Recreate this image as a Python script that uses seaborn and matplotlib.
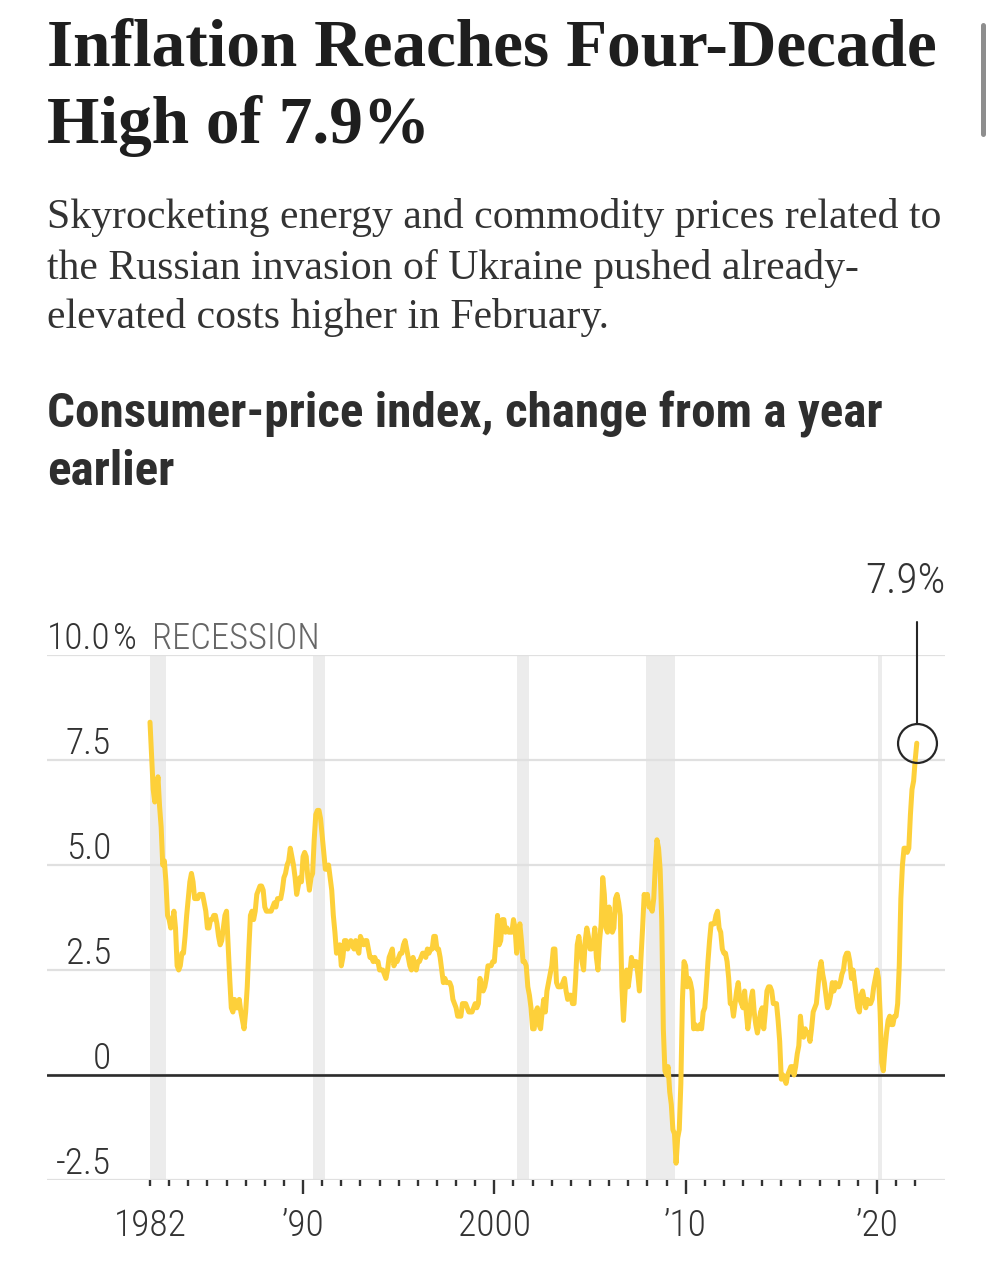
import numpy as np
import pandas as pd
import matplotlib
matplotlib.use("Agg")
import matplotlib.pyplot as plt
import matplotlib.transforms as mtransforms
from matplotlib.lines import Line2D
from matplotlib import font_manager as fm
import seaborn as sns

# ---------------- data: CPI, % change from a year earlier (monthly) ----------------
cpi_1982_1989 = [
    8.4, 7.6, 6.8, 6.5, 6.7, 7.1, 6.4, 5.9, 5.0, 5.1, 4.6, 3.8,
    3.7, 3.5, 3.6, 3.9, 3.5, 2.6, 2.5, 2.6, 2.9, 2.9, 3.3, 3.8,
    4.2, 4.6, 4.8, 4.6, 4.2, 4.2, 4.2, 4.3, 4.3, 4.3, 4.1, 3.9,
    3.5, 3.5, 3.7, 3.7, 3.8, 3.8, 3.6, 3.3, 3.1, 3.2, 3.5, 3.8,
    3.9, 3.1, 2.3, 1.6, 1.5, 1.8, 1.6, 1.6, 1.8, 1.5, 1.3, 1.1,
    1.5, 2.1, 3.0, 3.8, 3.9, 3.7, 3.9, 4.3, 4.4, 4.5, 4.5, 4.4,
    4.0, 3.9, 3.9, 3.9, 3.9, 4.0, 4.1, 4.0, 4.2, 4.2, 4.2, 4.4,
    4.7, 4.8, 5.0, 5.1, 5.4, 5.2, 5.0, 4.7, 4.3, 4.5, 4.7, 4.6,
]
cpi_1990_1999 = [
    5.2, 5.3, 5.2, 4.7, 4.4, 4.7, 4.8, 5.6, 6.2, 6.3, 6.3, 6.1,
    5.7, 5.3, 4.9, 4.9, 5.0, 4.7, 4.4, 3.8, 3.4, 2.9, 3.0, 3.1,
    2.6, 2.8, 3.2, 3.2, 3.0, 3.1, 3.2, 3.1, 3.0, 3.2, 3.0, 2.9,
    3.3, 3.2, 3.1, 3.2, 3.2, 3.0, 2.8, 2.8, 2.7, 2.8, 2.7, 2.7,
    2.5, 2.5, 2.5, 2.4, 2.3, 2.5, 2.8, 2.9, 3.0, 2.6, 2.7, 2.7,
    2.8, 2.9, 2.9, 3.1, 3.2, 3.0, 2.8, 2.6, 2.5, 2.8, 2.6, 2.5,
    2.7, 2.7, 2.8, 2.9, 2.9, 2.8, 3.0, 2.9, 3.0, 3.0, 3.3, 3.3,
    3.0, 3.0, 2.8, 2.5, 2.2, 2.3, 2.2, 2.2, 2.2, 2.1, 1.8, 1.7,
    1.6, 1.4, 1.4, 1.4, 1.7, 1.7, 1.7, 1.6, 1.5, 1.5, 1.5, 1.6,
    1.7, 1.6, 1.7, 2.3, 2.1, 2.0, 2.1, 2.3, 2.6, 2.6, 2.6, 2.7,
]
cpi_2000_2009 = [
    2.7, 3.2, 3.8, 3.1, 3.2, 3.7, 3.7, 3.4, 3.5, 3.4, 3.4, 3.4,
    3.7, 3.5, 2.9, 3.3, 3.6, 3.2, 2.7, 2.7, 2.6, 2.1, 1.9, 1.6,
    1.1, 1.1, 1.5, 1.6, 1.2, 1.1, 1.5, 1.8, 1.5, 2.0, 2.2, 2.4,
    2.6, 3.0, 3.0, 2.2, 2.1, 2.1, 2.1, 2.2, 2.3, 2.0, 1.8, 1.9,
    1.9, 1.7, 1.7, 2.3, 3.1, 3.3, 3.0, 2.7, 2.5, 3.2, 3.5, 3.3,
    3.0, 3.0, 3.1, 3.5, 2.8, 2.5, 3.2, 3.6, 4.7, 4.3, 3.5, 3.4,
    4.0, 3.6, 3.4, 3.5, 4.2, 4.3, 4.1, 3.8, 2.1, 1.3, 2.0, 2.5,
    2.1, 2.4, 2.8, 2.6, 2.7, 2.7, 2.4, 2.0, 2.8, 3.5, 4.3, 4.1,
    4.3, 4.0, 4.0, 3.9, 4.2, 5.0, 5.6, 5.4, 4.9, 3.7, 1.1, 0.1,
    0.0, 0.2, -0.4, -0.7, -1.3, -1.4, -2.1, -1.5, -1.3, -0.2, 1.8, 2.7,
]
cpi_2010_2019 = [
    2.6, 2.1, 2.3, 2.2, 2.0, 1.1, 1.2, 1.1, 1.1, 1.2, 1.1, 1.5,
    1.6, 2.1, 2.7, 3.2, 3.6, 3.6, 3.6, 3.8, 3.9, 3.5, 3.4, 3.0,
    2.9, 2.9, 2.7, 2.3, 1.7, 1.7, 1.4, 1.7, 2.0, 2.2, 1.8, 1.7,
    1.6, 2.0, 1.5, 1.1, 1.4, 1.8, 2.0, 1.5, 1.2, 1.0, 1.2, 1.5,
    1.6, 1.1, 1.5, 2.0, 2.1, 2.1, 2.0, 1.7, 1.7, 1.7, 1.3, 0.8,
    -0.1, 0.0, -0.1, -0.2, 0.0, 0.1, 0.2, 0.2, 0.0, 0.2, 0.5, 0.7,
    1.4, 1.0, 0.9, 1.1, 1.0, 1.0, 0.8, 1.1, 1.5, 1.6, 1.7, 2.1,
    2.5, 2.7, 2.4, 2.2, 1.9, 1.6, 1.7, 1.9, 2.2, 2.0, 2.2, 2.1,
    2.1, 2.2, 2.4, 2.5, 2.8, 2.9, 2.9, 2.7, 2.3, 2.5, 2.2, 1.9,
    1.6, 1.5, 1.9, 2.0, 1.8, 1.6, 1.8, 1.7, 1.7, 1.8, 2.1, 2.3,
]
cpi_2020_2022 = [
    2.5, 2.3, 1.5, 0.3, 0.1, 0.6, 1.0, 1.3, 1.4, 1.2, 1.2, 1.4,
    1.4, 1.7, 2.6, 4.2, 5.0, 5.4, 5.4, 5.3, 5.4, 6.2, 6.8, 7.0,
    7.5, 7.9,
]
start_month = "1982-01"

# recession periods (decimal years, clipped to the data range)
recession_start = [1982.0, 1990.5, 2001.17, 2007.92, 2020.08]
recession_end = [1982.83, 1991.17, 2001.83, 2009.42, 2020.25]

ytick_values = [-2.5, 0, 2.5, 5.0, 7.5, 10.0]
ytick_labels = ["-2.5", "0", "2.5", "5.0", "7.5", "10.0"]
xmajor_years = [1990, 2000, 2010, 2020]
xmajor_labels = ["\u201990", "2000", "\u201910", "\u201920"]
first_year = 1982
last_tick_year = 2022

title_lines = ["Inflation Reaches Four-Decade", "High of 7.9%"]
subtitle_lines = [
    "Skyrocketing energy and commodity prices related to",
    "the Russian invasion of Ukraine pushed already-",
    "elevated costs higher in February.",
]
chart_title_lines = ["Consumer-price index, change from a year", "earlier"]
latest_label = "7.9%"

# ---------------- assemble ----------------
values = cpi_1982_1989 + cpi_1990_1999 + cpi_2000_2009 + cpi_2010_2019 + cpi_2020_2022
months = pd.date_range(start_month, periods=len(values), freq="MS")
df = pd.DataFrame({"x": months.year + (months.month - 1) / 12.0, "cpi": values})

# ---------------- style ----------------
sns.set_style("white")
avail = {f.name for f in fm.fontManager.ttflist}


def pick(*names):
    for n in names:
        if n in avail:
            return n
    return "DejaVu Sans"


SERIF = pick("Liberation Serif", "DejaVu Serif")
NARROW = pick("Roboto Condensed", "Liberation Sans Narrow", "Roboto", "Liberation Sans")
BOLD_SANS = pick("Roboto Condensed", "Liberation Sans Narrow", "Roboto", "Lato")
plt.rcParams["font.family"] = [NARROW, "DejaVu Sans"]

W, H = 994, 1280
fig = plt.figure(figsize=(W / 100, H / 100), dpi=100)
fig.patch.set_facecolor("white")
renderer = fig.canvas.get_renderer()


def fx(px):
    return px / W


def fy(py):
    return 1 - py / H


def fit(t, target_px):
    w = t.get_window_extent(renderer).width
    t.set_fontsize(t.get_fontsize() * target_px / w)
    return t.get_fontsize()


# ---------------- header text ----------------
t1 = fig.text(fx(47), fy(65), title_lines[0], family=SERIF, weight="bold",
              fontsize=48, color="#1e1e1e", va="baseline", ha="left")
fs_title = fit(t1, 890)
fig.text(fx(47), fy(143), title_lines[1], family=SERIF, weight="bold",
         fontsize=fs_title, color="#1e1e1e", va="baseline", ha="left")

s1 = fig.text(fx(47), fy(228), subtitle_lines[0], family=SERIF,
              fontsize=28, color="#333333", va="baseline", ha="left")
fs_sub = fit(s1, 893)
for line, yb in zip(subtitle_lines[1:], [279, 328]):
    fig.text(fx(47), fy(yb), line, family=SERIF, fontsize=fs_sub,
             color="#333333", va="baseline", ha="left")

c1 = fig.text(fx(47), fy(427), chart_title_lines[0], family=BOLD_SANS, weight="bold",
              fontsize=28, color="#2e2e2e", va="baseline", ha="left")
fs_ct = fit(c1, 836)
fig.text(fx(47), fy(485), chart_title_lines[1], family=BOLD_SANS, weight="bold",
         fontsize=fs_ct, color="#2e2e2e", va="baseline", ha="left")

# phone-screenshot scroll indicator
fig.add_artist(Line2D([fx(983), fx(983)], [fy(25), fy(134)], color="#8e8e8e",
                      lw=3.6, solid_capstyle="round"))

# ---------------- chart ----------------
ax_left, ax_right, ax_top, ax_bottom = 47, 945, 655, 1180
ax = fig.add_axes([fx(ax_left), fy(ax_bottom), (ax_right - ax_left) / W,
                   (ax_bottom - ax_top) / H])
ax.set_facecolor("none")
px_per_year = 19.13
ax.set_xlim(first_year - (150 - ax_left) / px_per_year,
            first_year + (ax_right - 150) / px_per_year)
ax.set_ylim(ytick_values[0], ytick_values[-1])
for s in ax.spines.values():
    s.set_visible(False)

for a, b in zip(recession_start, recession_end):
    ax.axvspan(a, b, color="#ececec", lw=0, zorder=0)

ax.set_yticks(ytick_values)
ax.tick_params(axis="y", length=0, labelleft=False, left=False)
ax.grid(axis="y", color="#e0e0e0", lw=1.6, zorder=1)
ax.grid(axis="x", visible=False)
ax.set_axisbelow(True)
ax.axhline(0, color="#2b2b2b", lw=1.9, zorder=2)

sns.lineplot(data=df, x="x", y="cpi", ax=ax, color="#fdd03a", lw=3.6,
             estimator=None, zorder=4, legend=False)
ax.set_xlabel("")
ax.set_ylabel("")

# x ticks
minor_years = [y for y in range(first_year, last_tick_year + 1) if y not in xmajor_years]
minor_labels = [str(y) if y == first_year else "" for y in minor_years]
ax.set_xticks(xmajor_years, labels=xmajor_labels)
ax.set_xticks(minor_years, labels=minor_labels, minor=True)

# y labels (sit above gridlines, right-aligned)
lab_x = (111 - ax_left) / (ax_right - ax_left)
ytrans = mtransforms.blended_transform_factory(ax.transAxes, ax.transData)
off = mtransforms.ScaledTranslation(0, 6 / 100, fig.dpi_scale_trans)
probe = ax.text(0, 0, "10.0%", fontsize=28, transform=ax.transAxes)
fs_num = fit(probe, 89)
probe.remove()
for v, lab in zip(ytick_values, ytick_labels):
    ax.text(lab_x, v, lab, transform=ytrans + off, ha="right", va="baseline",
            fontsize=fs_num, color="#333333", fontweight="light")
ax.text(lab_x + 2 / (ax_right - ax_left), ytick_values[-1], "%", transform=ytrans + off,
        ha="left", va="baseline", fontsize=fs_num, color="#333333", fontweight="light")
rec = ax.text((152 - ax_left) / (ax_right - ax_left), ytick_values[-1], "RECESSION",
              transform=ytrans + off, ha="left", va="baseline", fontsize=fs_num * 0.85,
              color="#666666", fontweight="light")
fit(rec, 168)

ax.tick_params(axis="x", which="both", bottom=True, top=False, direction="out",
               color="#333333", width=1.7, labelcolor="#333333", labelsize=fs_num)
ax.tick_params(axis="x", which="major", length=14 * 0.72, pad=14 * 0.72)
ax.tick_params(axis="x", which="minor", length=6 * 0.72, pad=22 * 0.72)
for lab in ax.get_xticklabels(which="both"):
    lab.set_fontweight("light")

# latest value marker + callout
x_last = df["x"].iloc[-1]
y_last = df["cpi"].iloc[-1]
ax.plot([x_last], [y_last], marker="o", ms=28, mfc="none", mec="#262626", mew=1.6,
        clip_on=False, zorder=6)
r_data = 20 / ((ax_bottom - ax_top) / (ytick_values[-1] - ytick_values[0]))
ax.plot([x_last, x_last], [y_last + r_data, 10.79], color="#262626", lw=1.5,
        clip_on=False, zorder=6)
lt = ax.text(1.0, 11.48, latest_label, transform=ytrans, ha="right", va="baseline",
             fontsize=fs_num, color="#333333", fontweight="light")
fit(lt, 80)

fig.savefig("out.png", dpi=100, facecolor="white")
